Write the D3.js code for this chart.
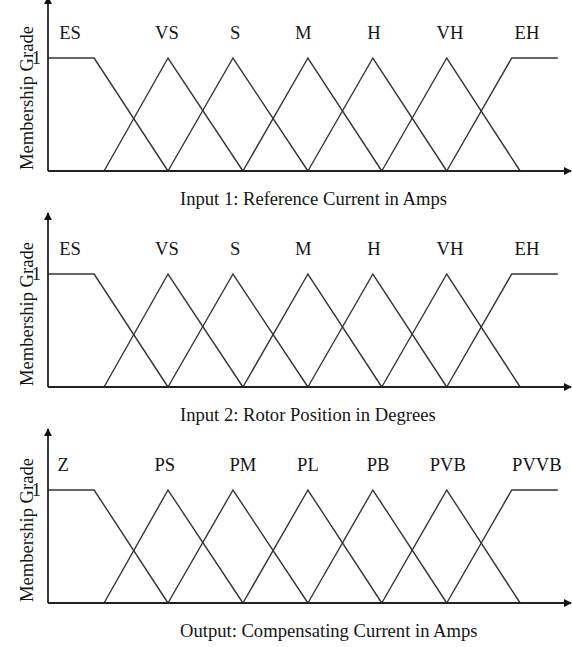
<!DOCTYPE html>
<html>
<head>
<meta charset="utf-8">
<script src="https://cdn.jsdelivr.net/npm/d3@7"></script>
<style>
  body { margin: 0; background: #fff; }
  svg { display: block; }
  text { font-family: "Liberation Serif", "Times New Roman", serif; fill: #151515; }
</style>
</head>
<body>
<svg id="chart" width="572" height="647"></svg>
<script>
// universe is on a 0..100 scale, grades 0..1
var setPoints = [
  [[0, 1], [8.8, 1], [22.9, 0]],
  [[10.7, 0], [22.9, 1], [37.2, 0]],
  [[22.9, 0], [35.3, 1], [49.6, 0]],
  [[37.2, 0], [49.6, 1], [63.7, 0]],
  [[49.6, 0], [62.0, 1], [76.1, 0]],
  [[63.7, 0], [76.1, 1], [90.1, 0]],
  [[76.1, 0], [88.5, 1], [97.3, 1]]
];

var inputNames  = ['ES', 'VS', 'S', 'M', 'H', 'VH', 'EH'];
var outputNames = ['Z', 'PS', 'PM', 'PL', 'PB', 'PVB', 'PVVB'];

var inputLabelAt  = [4.2, 22.7, 35.7, 48.7, 62.2, 76.7, 91.4];
var outputLabelAt = [2.9, 22.3, 37.2, 49.6, 63.0, 76.3, 93.3];

var captions = [
  'Input 1: Reference Current in Amps',
  'Input 2: Rotor Position in Degrees',
  'Output: Compensating Current in Amps'
];

var panels = [
  {names: inputNames,  labelAt: inputLabelAt,  caption: captions[0], base: 171},
  {names: inputNames,  labelAt: inputLabelAt,  caption: captions[1], base: 387},
  {names: outputNames, labelAt: outputLabelAt, caption: captions[2], base: 603}
];

var svg = d3.select('#chart');
var x = d3.scaleLinear().domain([0, 100]).range([48, 572]);
var y = d3.scaleLinear().domain([0, 1]).range([0, -113]);
var yTop = 1.54;
var fs = 18.6;

var defs = svg.append('defs');
defs.append('marker')
    .attr('id', 'arrow')
    .attr('viewBox', '0 0 10 10')
    .attr('refX', 9).attr('refY', 5)
    .attr('markerWidth', 4.5).attr('markerHeight', 4.5)
    .attr('orient', 'auto')
  .append('path')
    .attr('d', 'M0,0L10,5L0,10z')
    .attr('fill', '#111');

var line = d3.line()
    .x(function(d){ return x(d[0]); })
    .y(function(d){ return y(d[1]); });

panels.forEach(function(p){
    var g = svg.append('g').attr('transform', 'translate(0,' + p.base + ')');

    // membership functions
    g.selectAll('.mf').data(setPoints).enter().append('path')
      .classed('mf', true)
      .attr('d', line)
      .attr('fill', 'none')
      .attr('stroke', '#353535')
      .attr('stroke-width', 1.4);

    // axes with arrow heads
    g.append('line')
      .attr('x1', x(0)).attr('y1', y(0))
      .attr('x2', x(0)).attr('y2', y(yTop))
      .attr('stroke', '#222').attr('stroke-width', 1.8)
      .attr('marker-end', 'url(#arrow)');
    g.append('line')
      .attr('x1', x(0)).attr('y1', y(0))
      .attr('x2', x(100) - 1).attr('y2', y(0))
      .attr('stroke', '#222').attr('stroke-width', 1.8)
      .attr('marker-end', 'url(#arrow)');

    // the single "1" tick
    var ax = g.append('g').attr('transform', 'translate(' + x(0) + ',0)')
      .call(d3.axisLeft(y).tickValues([1]).tickFormat(d3.format('d')).tickSize(0).tickPadding(7));
    ax.select('.domain').remove();
    ax.selectAll('text')
      .attr('font-family', '"Liberation Serif", serif')
      .attr('font-size', fs).attr('fill', '#151515');

    // set names
    g.selectAll('.name').data(p.names).enter().append('text')
      .classed('name', true)
      .attr('x', function(d, i){ return x(p.labelAt[i]); })
      .attr('y', y(1) - 19)
      .attr('text-anchor', 'middle')
      .attr('font-size', fs)
      .text(function(d){ return d; });

    g.append('text')
      .attr('transform', 'translate(33,' + (y(0) - 73) + ')rotate(-90)')
      .attr('text-anchor', 'middle')
      .attr('font-size', fs)
      .text('Membership Grade');

    g.append('text')
      .attr('x', 180).attr('y', 34)
      .attr('font-size', fs)
      .text(p.caption);
});
</script>
</body>
</html>
